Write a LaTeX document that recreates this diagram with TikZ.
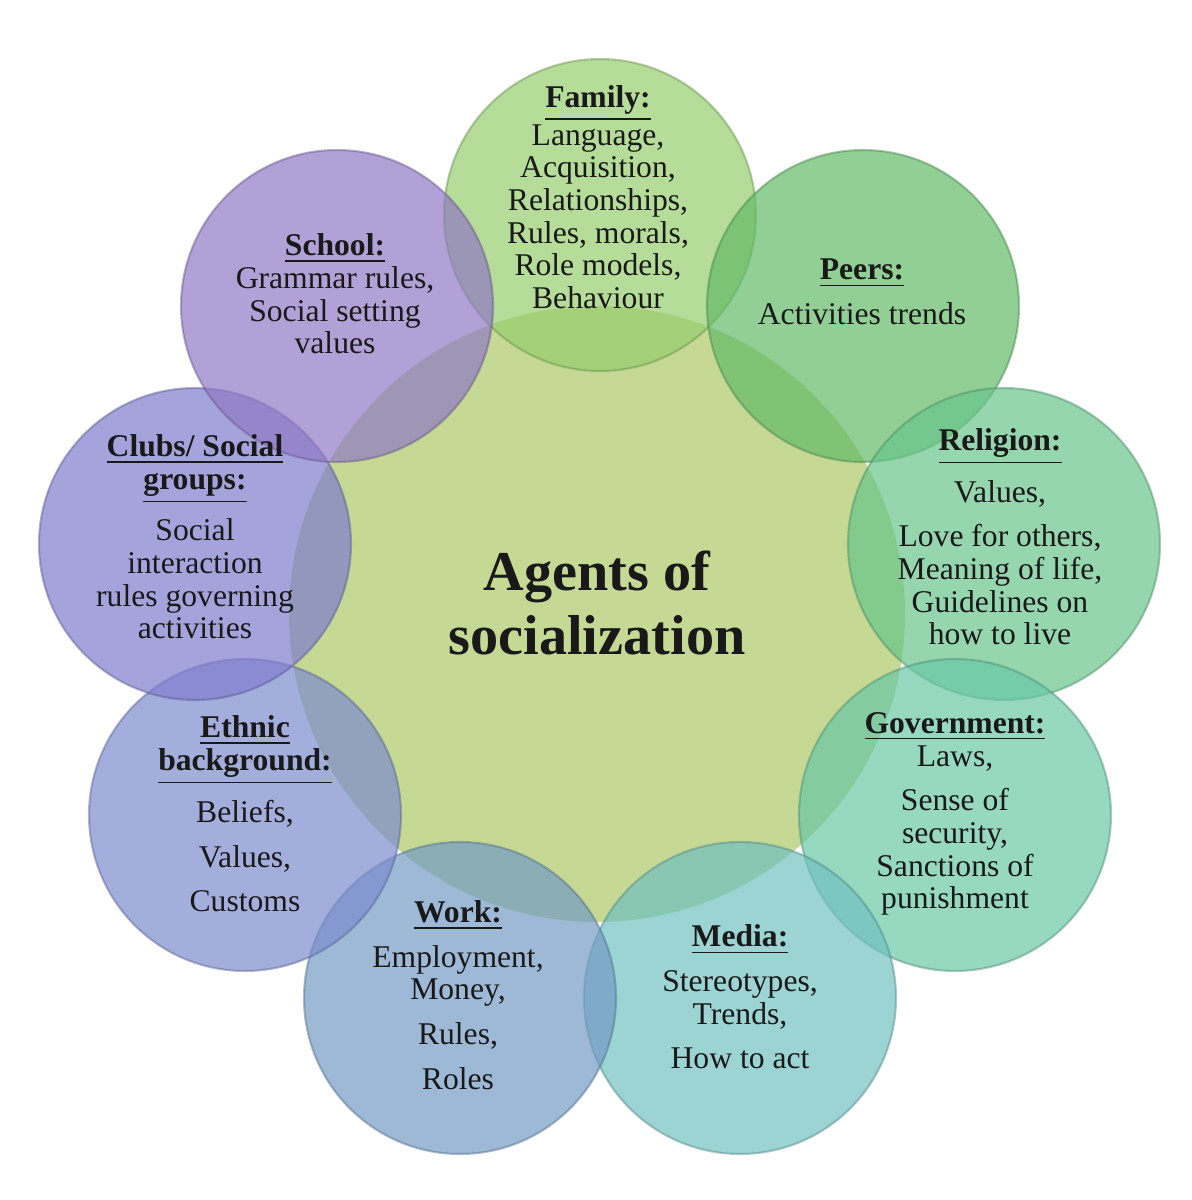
\documentclass[tikz,border=0pt]{standalone}
\usepackage{fontspec}
\setmainfont{Liberation Serif}
\definecolor{hubcol}{HTML}{C5D995}
\definecolor{famcol}{HTML}{95CD6C}
\definecolor{peercol}{HTML}{63BA68}
\definecolor{relcol}{HTML}{68C48B}
\definecolor{govcol}{HTML}{69C7A5}
\definecolor{medcol}{HTML}{72C0C0}
\definecolor{workcol}{HTML}{739BC4}
\definecolor{ethcol}{HTML}{7D8BCE}
\definecolor{clubcol}{HTML}{7F7CCD}
\definecolor{schcol}{HTML}{9079C4}
\newcommand{\agtitle}[1]{\underline{\textbf{#1}}}
\begin{document}
\begin{tikzpicture}[scale=1,
        hub/.style={circle,minimum size=6.16cm,inner sep=0pt,fill=hubcol},
        agent/.style={circle,minimum size=3.12cm,inner sep=0pt,
            fill opacity=0.7,draw opacity=0.45,line width=0.6pt},
        txt/.style={align=center,text=black!90,
            font=\fontsize{9}{9.3}\selectfont}]

\useasboundingbox (0,0) rectangle (11.91,12);

\node[hub] (hub) at (5.97,5.86) {};

\node[agent,fill=famcol,draw=famcol!70!black] (family) at (6.00,9.85) {};
\node[agent,fill=peercol,draw=peercol!70!black] (peers) at (8.63,8.94) {};
\node[agent,fill=relcol,draw=relcol!70!black] (religion) at (10.04,6.56) {};
\node[agent,fill=govcol,draw=govcol!70!black] (government) at (9.55,3.85) {};
\node[agent,fill=medcol,draw=medcol!70!black] (media) at (7.40,2.02) {};
\node[agent,fill=workcol,draw=workcol!70!black] (work) at (4.60,2.02) {};
\node[agent,fill=ethcol,draw=ethcol!70!black] (ethnic) at (2.45,3.85) {};
\node[agent,fill=clubcol,draw=clubcol!70!black] (clubs) at (1.95,6.56) {};
\node[agent,fill=schcol,draw=schcol!70!black] (school) at (3.37,8.94) {};

\node[txt] (familytxt) at (5.98,10.03) {\agtitle{Family:}\\ Language,\\ Acquisition,\\
    Relationships,\\ Rules, morals,\\ Role models,\\ Behaviour};
\node[txt] (peerstxt) at (8.62,9.08) {\agtitle{Peers:}\\[3.4pt] Activities trends};
\node[txt] (religiontxt) at (10.00,6.63) {\agtitle{Religion:}\\[3.4pt] Values,\\[3.4pt]
    Love for others,\\ Meaning of life,\\ Guidelines on\\ how to live};
\node[txt] (governmenttxt) at (9.55,3.86) {\agtitle{Government:}\\ Laws,\\[3.4pt]
    Sense of\\ security,\\ Sanctions of\\ punishment};
\node[txt] (mediatxt) at (7.40,2.03) {\agtitle{Media:}\\[3.4pt] Stereotypes,\\ Trends,\\[3.4pt]
    How to act};
\node[txt] (worktxt) at (4.58,2.05) {\agtitle{Work:}\\[3.4pt] Employment,\\ Money,\\[3.4pt]
    Rules,\\[3.4pt] Roles};
\node[txt] (ethnictxt) at (2.45,3.86) {\agtitle{Ethnic}\\ \agtitle{background:}\\[3.4pt]
    Beliefs,\\[3.4pt] Values,\\[3.4pt] Customs};
\node[txt] (clubstxt) at (1.95,6.63) {\agtitle{Clubs/ Social}\\ \agtitle{groups:}\\[3.4pt]
    Social\\ interaction\\ rules governing\\ activities};
\node[txt] (schooltxt) at (3.35,9.06) {\agtitle{School:}\\ Grammar rules,\\
    Social setting\\ values};

\node[align=center,text=black!90,font=\fontsize{16}{18}\selectfont\bfseries] (hubtxt)
    at (5.97,5.97) {Agents of\\ socialization};
\end{tikzpicture}
\end{document}
